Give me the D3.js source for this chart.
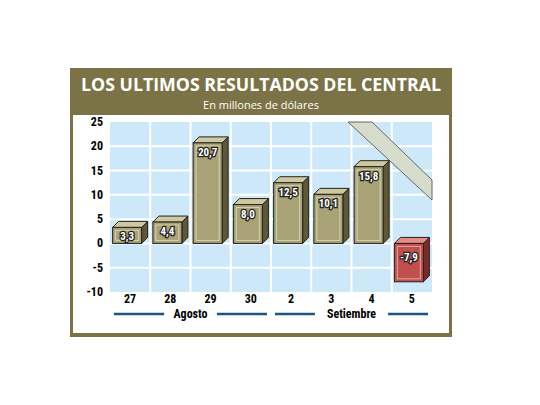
<!DOCTYPE html><html><head><meta charset="utf-8"><script src="https://cdn.jsdelivr.net/npm/d3@7"></script>
<style>body{margin:0;background:#fff}</style></head><body><svg id="c" width="540" height="405"></svg>
<script>
const categories=["27","28","29","30","2","3","4","5"];
const values=[3.3,4.4,20.7,8.0,12.5,10.1,15.8,-7.9];
const labels=["3,3","4,4","20,7","8,0","12,5","10,1","15,8","-7,9"];
const yTicks=[25,20,15,10,5,0,-5,-10];
const months=[{name:"Agosto",from:0,to:3},{name:"Setiembre",from:4,to:7}];
const svg=d3.select("#c"),F="'Liberation Sans Narrow','Roboto Condensed',Arial,sans-serif";
svg.append("rect").attr("x",70).attr("y",68).attr("width",382).attr("height",269).attr("fill","#7b7346");
svg.append("rect").attr("x",73).attr("y",115).attr("width",376).attr("height",218).attr("fill","#fff");
svg.append("text").attr("x",261).attr("y",91).attr("text-anchor","middle").attr("fill","#fff").attr("font-family","'Open Sans',sans-serif").attr("font-weight","bold").attr("font-size",18).attr("textLength",360).attr("lengthAdjust","spacingAndGlyphs").text("LOS ULTIMOS RESULTADOS DEL CENTRAL");
svg.append("text").attr("x",261).attr("y",109).attr("text-anchor","middle").attr("fill","#fff").attr("font-family","'Open Sans',sans-serif").attr("font-size",11).text("En millones de dólares");
const x=d3.scaleBand().domain(categories).range([110,432]);
const y=d3.scaleLinear().domain([-10,25]).range([292,122]);
svg.append("rect").attr("x",110).attr("y",122).attr("width",322).attr("height",170).attr("fill","#cde8f9");
svg.append("g").selectAll("line").data(yTicks.slice(1,-1)).join("line").attr("x1",110).attr("x2",432).attr("y1",d=>y(d)).attr("y2",d=>y(d)).attr("stroke","#fff").attr("stroke-width",2);
svg.append("g").selectAll("line").data(categories.slice(1)).join("line").attr("x1",d=>x(d)).attr("x2",d=>x(d)).attr("y1",122).attr("y2",292).attr("stroke","#fff").attr("stroke-width",2);
svg.append("polygon").attr("points","348,122 372,122 432,180 432,200").attr("fill","#d6dccb").attr("stroke","#666");
svg.append("g").selectAll("text").data(yTicks).join("text").attr("x",103).attr("y",d=>y(d)+4).attr("text-anchor","end").attr("font-family",F).attr("font-weight","bold").attr("font-size",12).text(d=>d);
svg.append("g").selectAll("text").data(categories).join("text").attr("x",d=>x(d)+x.bandwidth()/2).attr("y",303).attr("text-anchor","middle").attr("font-family",F).attr("font-weight","bold").attr("font-size",12).text(d=>d);
const bw=29,dep=6;
categories.forEach((c,i)=>{
 const v=values[i],neg=v<0,x0=x(c)+(x.bandwidth()-bw-dep)/2,yt=y(Math.max(v,0)),yb=y(Math.min(v,0));
 const g=svg.append("g"),fc=neg?"#c0504d":"#a9a276",tc=neg?"#e88a86":"#cfc9a0",sc=neg?"#7a2a28":"#5e5836";
 g.append("polygon").attr("points",`${x0+bw},${yt} ${x0+bw+dep},${yt-dep} ${x0+bw+dep},${yb-dep} ${x0+bw},${yb}`).attr("fill",sc).attr("stroke","#222");
 g.append("polygon").attr("points",`${x0},${yt} ${x0+dep},${yt-dep} ${x0+bw+dep},${yt-dep} ${x0+bw},${yt}`).attr("fill",tc).attr("stroke","#222");
 g.append("rect").attr("x",x0).attr("y",yt).attr("width",bw).attr("height",yb-yt).attr("fill",fc).attr("stroke","#222");
 g.append("rect").attr("x",x0+3).attr("y",yt+3).attr("width",bw-6).attr("height",Math.max(0,yb-yt-6)).attr("fill","none").attr("stroke",neg?"#e9a09c":"#d8d2a8").attr("stroke-width",1);
 g.append("text").attr("x",x0+bw/2).attr("y",yt+13+(neg?5:0)).attr("text-anchor","middle").attr("font-family",F).attr("font-weight","bold").attr("font-size",11).attr("fill","#fff").attr("stroke","#222").attr("stroke-width",2.5).attr("paint-order","stroke").text(labels[i]);
});
months.forEach(m=>{
 const a=x(categories[m.from])+4,b=x(categories[m.to])+x.bandwidth()-4,cx=(a+b)/2,hw=m.name.length*3.4+6;
 svg.append("line").attr("x1",a).attr("x2",cx-hw).attr("y1",314).attr("y2",314).attr("stroke","#1b5584").attr("stroke-width",2.5);
 svg.append("line").attr("x1",cx+hw).attr("x2",b).attr("y1",314).attr("y2",314).attr("stroke","#1b5584").attr("stroke-width",2.5);
 svg.append("text").attr("x",cx).attr("y",318).attr("text-anchor","middle").attr("font-family",F).attr("font-weight","bold").attr("font-size",12).text(m.name);
});
</script></body></html>
